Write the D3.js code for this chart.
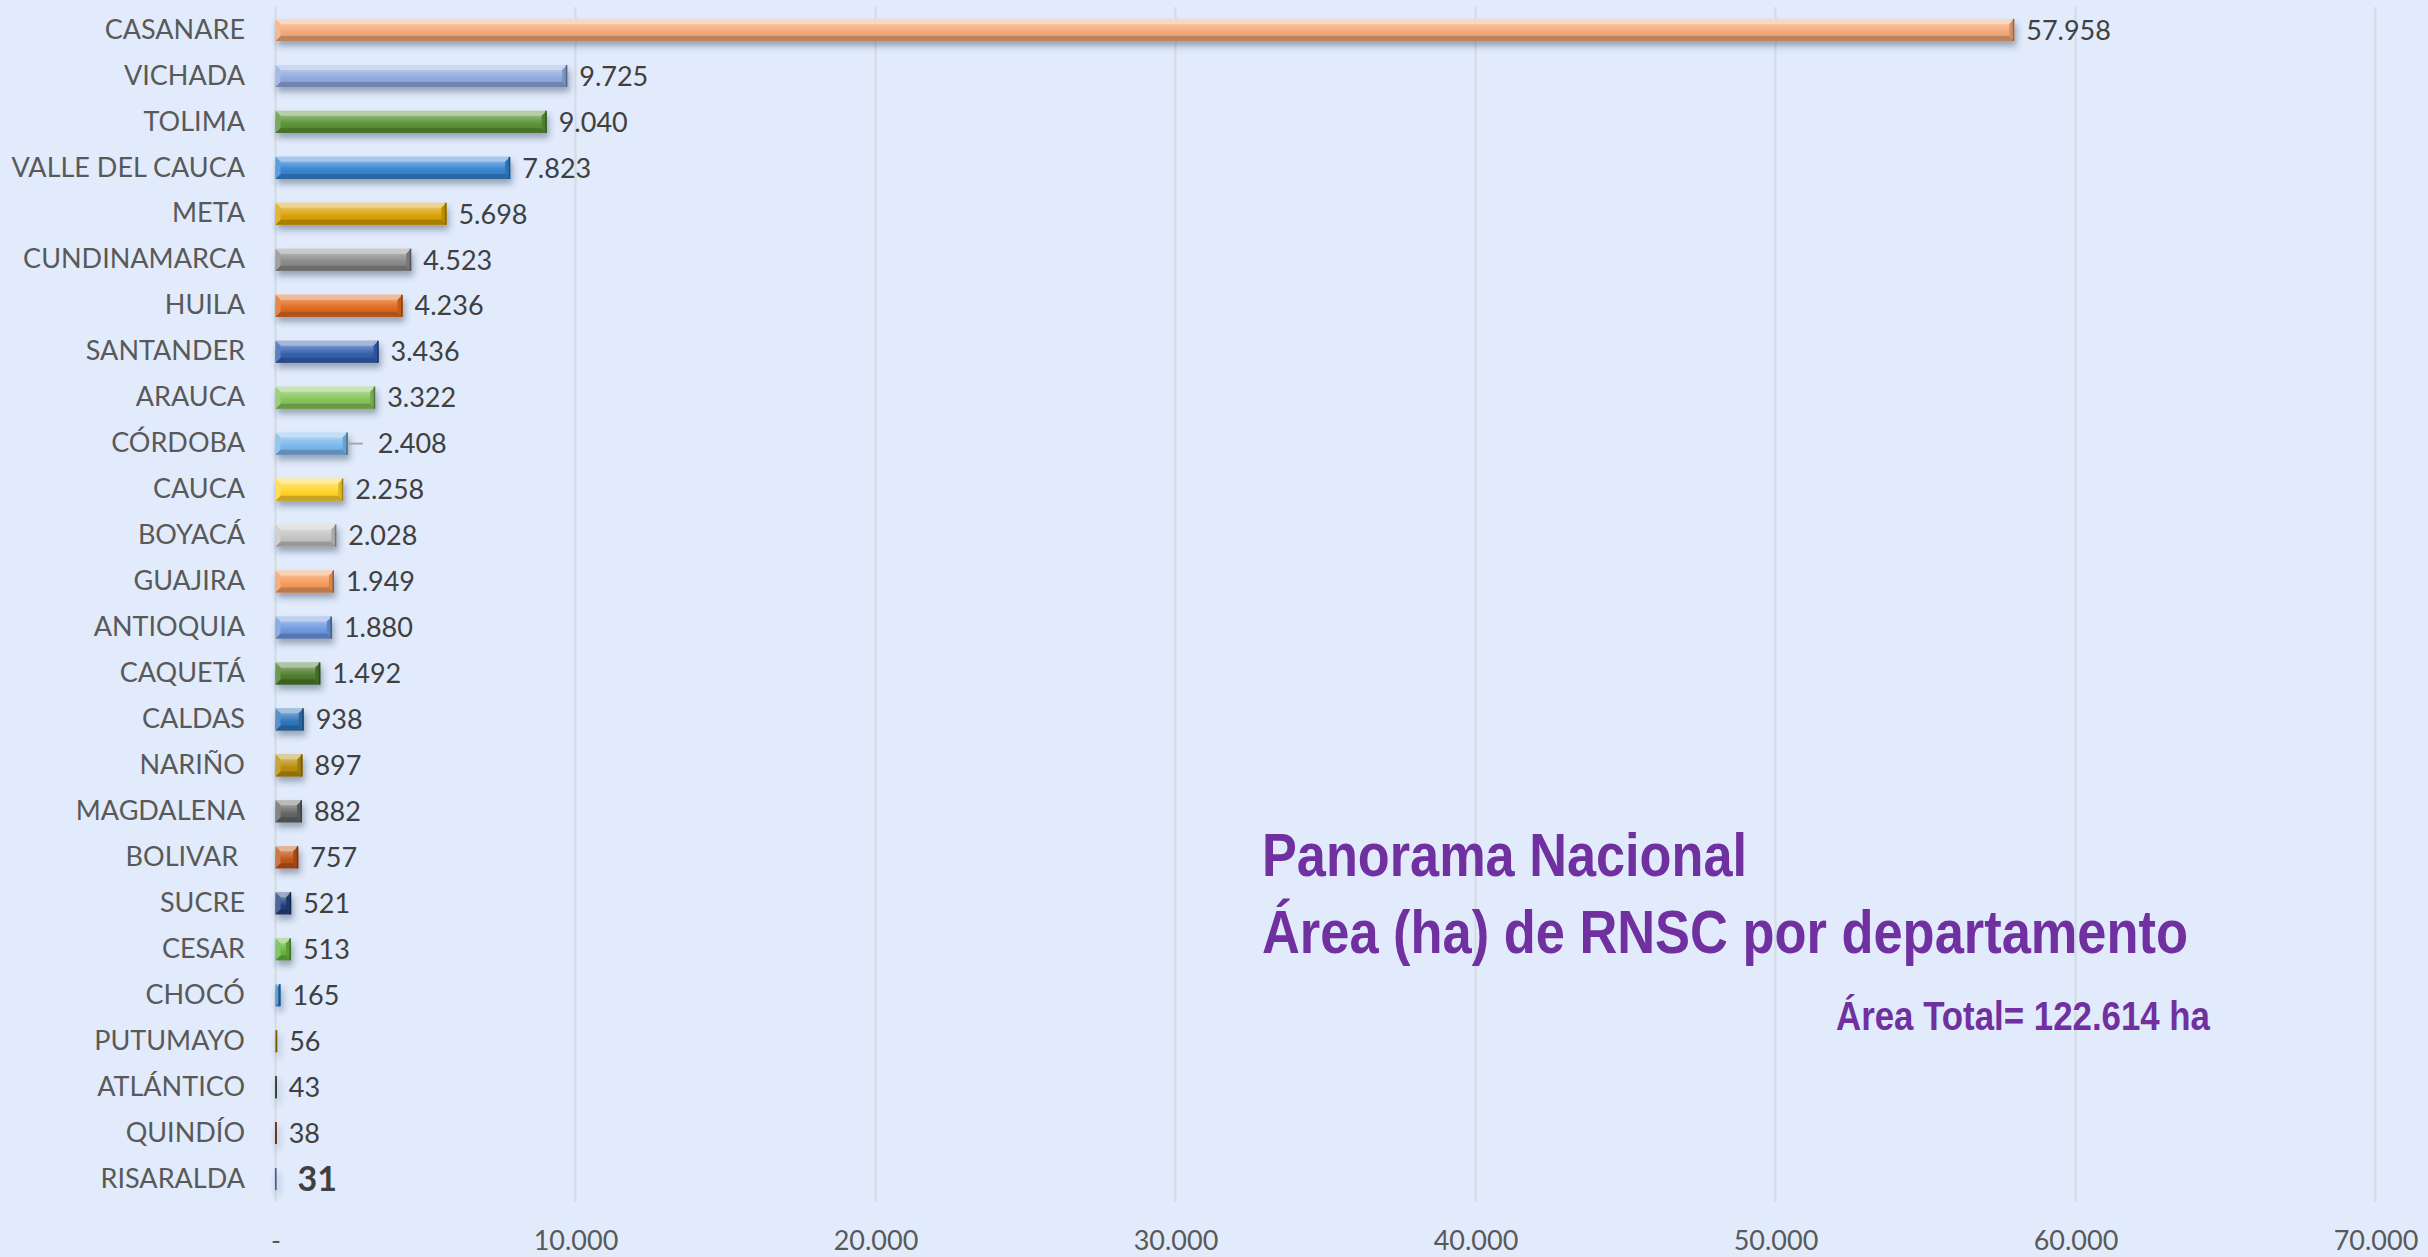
<!DOCTYPE html>
<html>
<head>
<meta charset="utf-8">
<script src="https://cdn.jsdelivr.net/npm/d3@7"></script>
<style>
  html, body { margin: 0; padding: 0; background: #E1EBFB; }
  svg { display: block; }
</style>
</head>
<body>
<svg id="chart"></svg>
<script>
const width = 2428;
const height = 1257;

// Departments, top to bottom
const departments = ['CASANARE', 'VICHADA', 'TOLIMA', 'VALLE DEL CAUCA', 'META', 'CUNDINAMARCA',
  'HUILA', 'SANTANDER', 'ARAUCA', 'CÓRDOBA', 'CAUCA', 'BOYACÁ', 'GUAJIRA', 'ANTIOQUIA',
  'CAQUETÁ', 'CALDAS', 'NARIÑO', 'MAGDALENA', 'BOLIVAR ', 'SUCRE', 'CESAR', 'CHOCÓ',
  'PUTUMAYO', 'ATLÁNTICO', 'QUINDÍO', 'RISARALDA'];
// Area (ha) of RNSC per department
const areas = [57958, 9725, 9040, 7823, 5698, 4523, 4236, 3436, 3322, 2408, 2258, 2028, 1949,
  1880, 1492, 938, 897, 882, 757, 521, 513, 165, 56, 43, 38, 31];
// Bar colours (Office palette, varied shades)
const barColors = ['#F2A878', '#8EAADF', '#5A9338', '#3584D2', '#D9A206', '#8A8A8A',
  '#E06A1E', '#3560B0', '#86C45A', '#7AB8EC', '#FFD42A', '#C4C4C4', '#F49A5C', '#6E98DE',
  '#4E7D2D', '#2F76BC', '#B88E0C', '#666666', '#C0561A', '#24417E', '#68B640', '#3C86CA',
  '#BF9000', '#505050', '#9A4A18', '#7E9FD8'];
const xTicks = [0, 10000, 20000, 30000, 40000, 50000, 60000, 70000];
const titleLines = ['Panorama Nacional', 'Área (ha) de RNSC por departamento'];
const totalText = 'Área Total= 122.614 ha';

const plot = { left: 275.5, right: 2375.5, top: 7, bottom: 1202 };

const locale = d3.formatLocale({ decimal: ',', thousands: '.', grouping: [3], currency: ['', ''] });
const fmt = locale.format(',d');

const svg = d3.select('#chart')
  .attr('width', width)
  .attr('height', height)
  .style('font-family', 'Lato, "Open Sans", sans-serif');

svg.append('rect')
  .attr('width', width)
  .attr('height', height)
  .attr('fill', '#E1EBFB');

const x = d3.scaleLinear()
  .domain([0, 70000])
  .range([plot.left, plot.right]);

const y = d3.scaleBand()
  .domain(departments)
  .range([plot.top, plot.bottom])
  .paddingInner(0.52)
  .paddingOuter(0.26);

const defs = svg.append('defs');

// soft shadow under the bars
const shadow = defs.append('filter')
  .attr('id', 'shadow')
  .attr('x', '-20%').attr('y', '-50%')
  .attr('width', '140%').attr('height', '220%');
shadow.append('feDropShadow')
  .attr('dx', 2).attr('dy', 5)
  .attr('stdDeviation', 3)
  .attr('flood-color', '#2a3550')
  .attr('flood-opacity', 0.4);

// gridlines
svg.append('g')
  .selectAll('line')
  .data(xTicks)
  .join('line')
  .attr('x1', d => x(d))
  .attr('x2', d => x(d))
  .attr('y1', plot.top)
  .attr('y2', plot.bottom)
  .attr('stroke', '#D4D9E2')
  .attr('stroke-width', 2);

// x axis labels
const xAxis = d3.axisBottom(x)
  .tickValues(xTicks)
  .tickSize(0)
  .tickPadding(0)
  .tickFormat(d => d === 0 ? '-' : fmt(d));

svg.append('g')
  .attr('transform', `translate(0,${plot.bottom})`)
  .call(xAxis)
  .call(g => g.select('.domain').remove())
  .call(g => g.selectAll('text')
    .attr('y', 48)
    .attr('dy', 0)
    .attr('fill', '#595959')
    .style('font-size', '27px')
    .style('font-family', 'Lato, "Open Sans", sans-serif'));

// y axis labels
const yAxis = d3.axisLeft(y).tickSize(0).tickPadding(0);
svg.append('g')
  .attr('transform', 'translate(245,0)')
  .call(yAxis)
  .call(g => g.select('.domain').remove())
  .call(g => g.selectAll('text')
    .attr('fill', '#595959')
    .style('white-space', 'pre')
    .style('font-size', '27px')
    .style('font-family', 'Lato, "Open Sans", sans-serif'));

// bevelled bars
const bars = svg.append('g').attr('filter', 'url(#shadow)');

departments.forEach((dep, i) => {
  const base = d3.color(barColors[i]);
  const light = d3.interpolateRgb(base, '#ffffff')(0.55);
  const mid = d3.interpolateRgb(base, '#ffffff')(0.2);
  const dark = base.darker(0.7);
  const x0 = x(0);
  const x1 = x(areas[i]);
  const y0 = y(dep);
  const h = y.bandwidth();
  const w = x1 - x0;
  const b = Math.min(5, w / 2);

  const gid = 'grad' + i;
  const grad = defs.append('linearGradient')
    .attr('id', gid)
    .attr('x1', 0).attr('y1', 0).attr('x2', 0).attr('y2', 1);
  grad.append('stop').attr('offset', '0%').attr('stop-color', light);
  grad.append('stop').attr('offset', '35%').attr('stop-color', mid);
  grad.append('stop').attr('offset', '60%').attr('stop-color', base.formatHex());
  grad.append('stop').attr('offset', '100%').attr('stop-color', base.darker(0.25).formatHex());

  const g = bars.append('g');
  g.append('rect')
    .attr('x', x0).attr('y', y0)
    .attr('width', w).attr('height', h)
    .attr('fill', `url(#${gid})`);

  const frame = [
    { pts: [[x0, y0], [x1, y0], [x1 - b, y0 + b], [x0 + b, y0 + b]], fill: light },
    { pts: [[x0, y0 + h], [x1, y0 + h], [x1 - b, y0 + h - b], [x0 + b, y0 + h - b]], fill: dark.formatHex() },
    { pts: [[x0, y0], [x0 + b, y0 + b], [x0 + b, y0 + h - b], [x0, y0 + h]], fill: mid },
    { pts: [[x1, y0], [x1 - b, y0 + b], [x1 - b, y0 + h - b], [x1, y0 + h]], fill: base.darker(0.4).formatHex() }
  ];
  g.selectAll('polygon')
    .data(frame)
    .join('polygon')
    .attr('points', d => d.pts.map(p => p.join(',')).join(' '))
    .attr('fill', d => d.fill);

  g.append('line')
    .attr('x1', x1 - 0.75).attr('x2', x1 - 0.75)
    .attr('y1', y0).attr('y2', y0 + h)
    .attr('stroke', base.darker(1.4).formatHex())
    .attr('stroke-width', 1.5);
});

// value labels
svg.append('g')
  .selectAll('text')
  .data(departments)
  .join('text')
  .attr('x', (d, i) => {
    if (d === 'CÓRDOBA') return x(areas[i]) + 30;
    if (d === 'RISARALDA') return x(areas[i]) + 21;
    return x(areas[i]) + 12;
  })
  .attr('y', d => y(d) + y.bandwidth() / 2)
  .attr('dy', '0.36em')
  .attr('fill', '#404040')
  .style('font-size', d => d === 'RISARALDA' ? '34px' : '27px')
  .style('font-weight', d => d === 'RISARALDA' ? 'bold' : 'normal')
  .text((d, i) => fmt(areas[i]));

// leader line for CÓRDOBA
const cIdx = departments.indexOf('CÓRDOBA');
svg.append('line')
  .attr('x1', x(areas[cIdx]) + 1)
  .attr('x2', x(areas[cIdx]) + 15)
  .attr('y1', y('CÓRDOBA') + y.bandwidth() / 2)
  .attr('y2', y('CÓRDOBA') + y.bandwidth() / 2)
  .attr('stroke', '#A6A6A6')
  .attr('stroke-width', 2);

// title block
const title = svg.append('g')
  .style('font-family', '"Liberation Sans", Arial, sans-serif')
  .style('font-weight', 'bold')
  .attr('fill', '#7030A0');

title.append('text')
  .attr('x', 1262).attr('y', 876)
  .style('font-size', '62px')
  .attr('textLength', 485)
  .attr('lengthAdjust', 'spacingAndGlyphs')
  .text(titleLines[0]);

title.append('text')
  .attr('x', 1262).attr('y', 953)
  .style('font-size', '62px')
  .attr('textLength', 926)
  .attr('lengthAdjust', 'spacingAndGlyphs')
  .text(titleLines[1]);

title.append('text')
  .attr('x', 1836).attr('y', 1030)
  .style('font-size', '41px')
  .attr('textLength', 374)
  .attr('lengthAdjust', 'spacingAndGlyphs')
  .text(totalText);
</script>
</body>
</html>
